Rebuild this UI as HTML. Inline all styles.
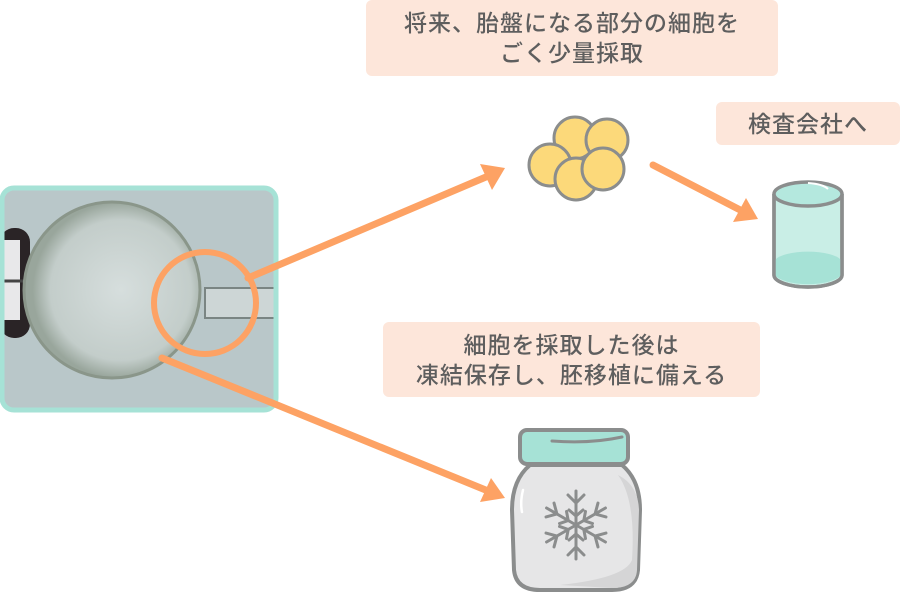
<!DOCTYPE html>
<html><head><meta charset="utf-8"><style>
html,body{margin:0;padding:0;background:#fff;width:900px;height:600px;overflow:hidden}
.lbl{position:absolute;background:#fde6da;border-radius:6px;color:#5e5e5e;font-family:"Liberation Sans","Noto Sans CJK JP",sans-serif;font-size:23px;font-weight:500;text-align:center;line-height:30px;display:flex;align-items:center;justify-content:center;letter-spacing:1px}
</style></head><body>
<div class="lbl" style="left:366px;top:0;width:412px;height:76px">将来、胎盤になる部分の細胞を<br>ごく少量採取</div>
<div class="lbl" style="left:716px;top:102px;width:184px;height:43px">検査会社へ</div>
<div class="lbl" style="left:383px;top:322px;width:377px;height:75px">細胞を採取した後は<br>凍結保存し、胚移植に備える</div>
<svg width="900" height="600" style="position:absolute;left:0;top:0">
<defs>
<radialGradient id="eg" cx="0.55" cy="0.5" r="0.5">
<stop offset="0" stop-color="#d6dedd"/><stop offset="0.8" stop-color="#c3cdca"/><stop offset="1" stop-color="#99a69c"/>
</radialGradient>
<clipPath id="cb"><rect x="2" y="188" width="274" height="222" rx="12"/></clipPath>
</defs>
<g clip-path="url(#cb)">
<rect x="0" y="186" width="280" height="228" fill="#b9c7c9"/>
<rect x="0" y="228" width="30" height="110" rx="14" fill="#2a2426"/>
<rect x="0" y="240" width="20" height="80" fill="#e8e8ea"/>
<line x1="0" y1="281" x2="24" y2="281" stroke="#444" stroke-width="3"/>
<circle cx="112" cy="290" r="88" fill="url(#eg)" stroke="#8a968a" stroke-width="3"/>
<rect x="205" y="288" width="75" height="30" fill="#cdd6d6" stroke="#7a8583" stroke-width="2"/>
</g>
<rect x="2" y="188" width="274" height="222" rx="12" fill="none" stroke="#a6e2d6" stroke-width="5"/>
<circle cx="205" cy="303" r="51" fill="none" stroke="#fda264" stroke-width="6"/>
<g stroke="#fda264" stroke-width="7" stroke-linecap="round" fill="none">
<line x1="248" y1="278" x2="493" y2="174"/>
<line x1="162" y1="358" x2="493" y2="493"/>
<line x1="653" y1="165" x2="748" y2="214"/>
</g>
<g fill="#fda264">
<polygon points="505,168 480,164 492,190"/>
<polygon points="505,498 480,502 491,478"/>
<polygon points="758,219 733,222 746,198"/>
</g>
<g fill="#fcd97a" stroke="#8b8d8d" stroke-width="3">
<circle cx="575" cy="138" r="21"/>
<circle cx="607" cy="140" r="21"/>
<circle cx="550" cy="165" r="21"/>
<circle cx="576" cy="179" r="21"/>
<circle cx="603" cy="169" r="21"/>
</g>
<path d="M774,194 L774,275 A34,12 0 0 0 842,275 L842,194" fill="#c9eee6" stroke="#8b8d8d" stroke-width="3.5"/>
<path d="M775,260 A34,11 0 0 1 841,260 L841,275 A34,12 0 0 1 775,275 Z" fill="#a6e2d6"/>
<path d="M774,194 L774,275 A34,12 0 0 0 842,275 L842,194" fill="none" stroke="#8b8d8d" stroke-width="3.5"/>
<ellipse cx="808" cy="194" rx="34" ry="12" fill="#b4e8de" stroke="#8b8d8d" stroke-width="3.5"/>
<path d="M808,183 Q823,184 828,189" stroke="#fff" stroke-width="2" fill="none"/>
<path d="M530,465 Q512,480 512,510 L514,570 Q516,590 540,590 L612,590 Q636,590 638,570 L640,510 Q640,480 622,465 Z" fill="#e6e6e7" stroke="#8b8d8d" stroke-width="4"/>
<path d="M618,475 Q636,500 632,560 Q625,578 560,585 L612,588 Q636,588 637,570 L639,510 Q638,485 618,475Z" fill="#d5d5d6"/>
<rect x="520" y="430" width="108" height="34" rx="7" fill="#a6e2d6" stroke="#8b8d8d" stroke-width="4"/>
<path d="M552,441 Q590,444 622,437" stroke="#8b8d8d" stroke-width="3" fill="none" stroke-linecap="round"/>
<g stroke="#8b8d8d" stroke-width="3" fill="none" stroke-linecap="round" transform="translate(576,525)">
<g id="arm"><line x1="0" y1="0" x2="0" y2="-34"/><polyline points="-8,-30 0,-22 8,-30"/><polyline points="-7,-15 0,-9 7,-15"/></g>
<use href="#arm" transform="rotate(60)"/><use href="#arm" transform="rotate(120)"/><use href="#arm" transform="rotate(180)"/><use href="#arm" transform="rotate(240)"/><use href="#arm" transform="rotate(300)"/>
</g>
<path d="M523,490 Q520,502 522,512" stroke="#fff" stroke-width="2.5" fill="none" stroke-linecap="round"/>
</svg>
</body></html>
